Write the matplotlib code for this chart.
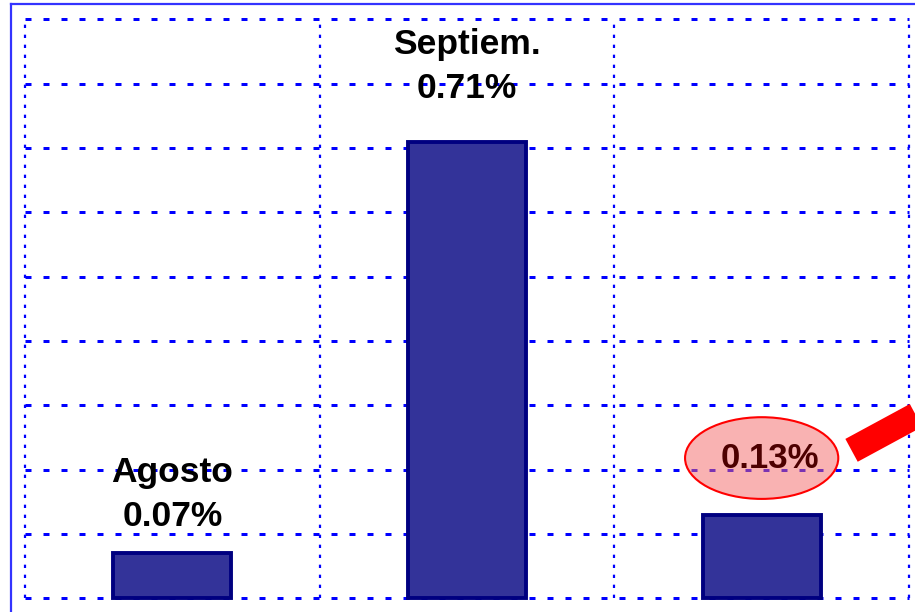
import matplotlib
matplotlib.use("Agg")
import matplotlib.pyplot as plt
import numpy as np
from matplotlib.patches import Ellipse
from matplotlib.lines import Line2D

plt.rcParams['font.family'] = ['Liberation Sans', 'DejaVu Sans']

# datos
meses = ["Agosto", "Septiem.", ""]
valores = [0.07, 0.71, 0.13]
etiquetas = ["0.07%", "0.71%", "0.13%"]

W, H = 915, 612
fig = plt.figure(figsize=(W / 100, H / 100), dpi=100)
ax = fig.add_axes([25 / W, (H - 598.3) / H, 884 / W, (598.3 - 19.3) / H])
ax.set_xlim(-0.5, 2.5)
ax.set_ylim(0, 0.9)
ax.axis('off')

# rejilla punteada
for yv in np.arange(0, 0.91, 0.1):
    ax.axhline(yv, color='#0000ff', lw=2.16, linestyle=(0, (2, 4)), clip_on=False, zorder=1)
for xv in np.arange(-0.5, 2.6, 1.0):
    ax.axvline(xv, color='#0000ff', lw=1.6, linestyle=(0, (1.5, 3)), clip_on=False, zorder=1)

x = np.arange(len(valores))
ax.bar(x, valores, width=0.4, color='#333399', edgecolor='#000080', lw=2.8,
       zorder=3, clip_on=False)

# etiquetas
offs = [0.092, 0.117]
for i in range(2):
    ax.text(x[i], valores[i] + offs[i], meses[i] + "\n" + etiquetas[i],
            ha='center', va='center', fontsize=25.5, fontweight='bold',
            linespacing=1.42, color='black', zorder=5)

# ovalo resaltado
ey = valores[2] + 0.088
ell = Ellipse((x[2], ey), 0.52, 0.127, facecolor=(0.96, 0.4, 0.4, 0.5),
              edgecolor='#ff0000', lw=1.5, zorder=4)
ax.add_patch(ell)
ax.text(x[2] + 0.027, ey, etiquetas[2], ha='center', va='center',
        fontsize=25, fontweight='bold', color='#4d0000', zorder=5)

# flecha roja
ax.plot([x[2] + 0.305, x[2] + 0.68], [ey + 0.012, ey + 0.105], color='#ff0000',
        lw=18.7, solid_capstyle='butt', clip_on=False, zorder=6)

# marco
fig.add_artist(Line2D([11 / W, 11 / W], [0, 1 - 4 / H], transform=fig.transFigure,
                      color='#3333ff', lw=1.6))
fig.add_artist(Line2D([11 / W, 1], [1 - 4 / H, 1 - 4 / H], transform=fig.transFigure,
                      color='#3333ff', lw=1.6))

fig.savefig('out.png', dpi=100)
